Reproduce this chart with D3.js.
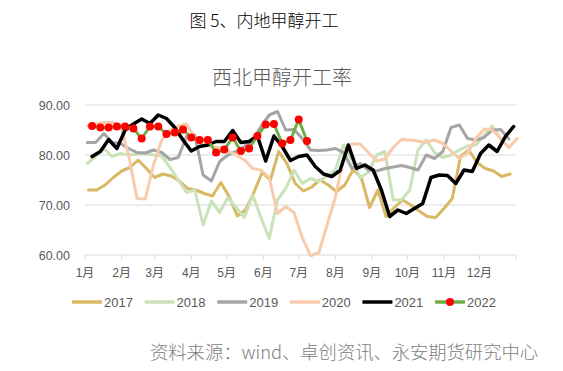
<!DOCTYPE html>
<html><head><meta charset="utf-8">
<script src="https://cdn.jsdelivr.net/npm/d3@7"></script>
<style>html,body{margin:0;padding:0;background:#fff;} svg{display:block;}</style>
</head><body>
<script>
// ---- data ----
const years = ["2017", "2018", "2019", "2020", "2021", "2022"];
const startDates = ["01-04", "01-03", "01-03", "01-03", "01-07", "01-07"]; // first weekly observation of each year
const monthLabels = ["1月","2月","3月","4月","5月","6月","7月","8月","9月","10月","11月","12月"];
const yTicks = [60, 70, 80, 90];

const v2017 = [73.0,73.0,74.0,75.5,76.8,77.5,79.0,77.3,75.5,76.2,75.8,74.8,73.3,73.0,72.3,71.8,74.5,71.7,67.8,69.0,72.5,76.5,75.0,80.7,78.3,74.3,72.8,73.6,75.0,74.0,72.7,74.0,77.0,75.5,69.5,73.0,67.7,69.5,71.0,70.0,68.8,67.7,67.5,69.3,71.3,79.7,81.0,78.5,77.3,76.8,75.7,76.2];
const v2018 = [78.3,79.7,81.3,79.7,80.3,80.0,80.2,80.3,80.0,79.8,77.5,75.0,72.5,73.0,66.0,70.8,68.5,71.5,69.5,67.5,72.0,67.5,63.3,71.0,73.3,77.0,74.3,75.3,74.7,75.8,77.0,82.0,79.0,75.5,76.5,80.0,80.7,71.0,71.0,73.0,81.0,83.0,80.5,79.5,80.0,81.0,81.8,82.0,84.0,85.8,83.2,81.5];
const v2019 = [82.5,82.5,84.3,82.5,82.3,81.3,80.5,80.4,81.0,80.5,79.1,79.5,83.7,84.0,76.0,74.8,78.7,80.0,80.7,81.7,83.0,85.7,88.0,88.7,85.0,85.1,83.3,81.0,80.9,81.0,81.3,80.5,77.3,78.3,77.0,76.8,77.3,77.6,77.9,77.5,77.0,80.0,79.3,80.7,85.5,86.0,83.3,83.0,83.5,85.0,85.1,83.2];
const v2020 = [85.8,86.2,86.5,86.5,86.0,80.0,71.3,71.2,78.0,83.0,85.0,85.8,86.2,83.5,82.0,81.7,81.5,80.8,80.0,79.0,77.3,77.0,75.5,68.3,69.7,68.5,63.5,59.8,60.5,66.0,71.5,79.5,82.2,82.2,80.5,78.8,79.2,81.5,83.1,83.0,82.8,82.5,83.0,82.3,80.8,79.3,80.3,83.3,85.2,85.0,83.3,81.5,83.3];
const v2021 = [79.7,80.7,83.1,81.3,85.0,86.2,87.2,86.3,88.0,87.3,85.5,83.0,80.8,81.7,82.0,82.7,82.7,84.9,82.5,82.7,83.8,78.8,83.8,81.7,78.9,79.7,80.0,77.7,76.2,75.7,76.9,82.0,77.3,78.0,77.0,73.0,67.7,69.0,68.3,69.3,70.3,75.5,76.0,75.9,74.3,77.0,76.7,80.3,82.0,80.7,83.7,85.7];
const v2022 = [85.8,85.5,85.5,85.7,85.7,85.3,83.3,85.7,85.7,84.2,84.5,85.1,83.5,83.0,83.0,80.5,81.1,83.5,80.8,81.3,83.8,86.1,86.2,82.3,83.0,87.1,82.8];

const seriesValues = [v2017, v2018, v2019, v2020, v2021, v2022];

// ---- styles ----
const colors = ["#d8b862", "#c9e2b8", "#a5a5a5", "#f8cbad", "#000000", "#70ad47"];
const widths = [3, 3, 3, 3, 3.5, 3];

const W = 563, H = 371;
const svg = d3.select("body").append("svg").attr("width", W).attr("height", H)
  .style("font-family", "'Liberation Sans', 'Noto Sans CJK SC', sans-serif");
svg.append("rect").attr("width", W).attr("height", H).attr("fill", "#fff");

const x = d3.scaleTime().domain([new Date(2001, 0, 1), new Date(2002, 0, 1)]).range([85, 516]);
const y = d3.scaleLinear().domain([60, 90]).range([255, 105]);

// titles
svg.append("text").attr("x", 264).attr("y", 27).attr("text-anchor", "middle")
  .attr("font-size", 17).attr("fill", "#000").attr("font-weight", 300)
  .style("font-family", "'Noto Sans CJK SC', sans-serif").text("图 5、内地甲醇开工");
svg.append("text").attr("x", 282).attr("y", 85).attr("text-anchor", "middle")
  .attr("font-size", 20).attr("fill", "#595959").attr("font-weight", 300)
  .style("font-family", "'Noto Sans CJK SC', sans-serif").text("西北甲醇开工率");

// grid
const [x0, x1] = x.range();
svg.append("g").selectAll("line").data(yTicks).join("line")
  .attr("x1", x0).attr("x2", x1).attr("y1", d => y(d)).attr("y2", d => y(d))
  .attr("stroke", "#d9d9d9").attr("stroke-width", 1);

// y labels
svg.append("g").selectAll("text").data(yTicks).join("text")
  .attr("x", 70).attr("y", d => y(d) + 4.5).attr("text-anchor", "end")
  .attr("font-size", 12.5).attr("fill", "#595959").text(d3.format(".2f"));

// x axis ticks
const monthTicks = x.ticks(d3.timeMonth.every(1));
svg.append("g").selectAll("line").data(monthTicks).join("line")
  .attr("x1", d => x(d)).attr("x2", d => x(d)).attr("y1", 255).attr("y2", 260)
  .attr("stroke", "#d9d9d9");
svg.append("g").selectAll("text").data(monthLabels).join("text")
  .attr("x", (d, i) => x(monthTicks[i])).attr("y", 277).attr("text-anchor", "middle")
  .attr("font-size", 12).attr("fill", "#595959").text(d => d);

// series
const toPoints = (vals, sd) => {
  const [m, d] = sd.split("-").map(Number);
  const s = new Date(2001, m - 1, d);
  return vals.map((v, i) => ({date: d3.timeDay.offset(s, 7 * i), v}));
};
const line = d3.line().x(d => x(d.date)).y(d => y(d.v));
const clipId = "clipplot";
svg.append("clipPath").attr("id", clipId).append("rect")
  .attr("x", 60).attr("y", 90).attr("width", 480).attr("height", 167);
const plot = svg.append("g").attr("clip-path", `url(#${clipId})`);
seriesValues.forEach((vals, k) => {
  const pts = toPoints(vals, startDates[k]);
  plot.append("path").datum(pts).attr("d", line).attr("fill", "none")
    .attr("stroke", colors[k]).attr("stroke-width", widths[k])
    .attr("stroke-linejoin", "round").attr("stroke-linecap", "round");
  if (k === 5) {
    plot.append("g").selectAll("circle").data(pts).join("circle")
      .attr("cx", d => x(d.date)).attr("cy", d => y(d.v)).attr("r", 4).attr("fill", "#ff0000");
  }
});

// legend
const lg = svg.append("g");
years.forEach((yr, k) => {
  const lx = 72 + k * 72.6, ly = 302;
  lg.append("line").attr("x1", lx).attr("x2", lx + 30).attr("y1", ly).attr("y2", ly)
    .attr("stroke", colors[k]).attr("stroke-width", 3.5);
  if (k === 5) lg.append("circle").attr("cx", lx + 15).attr("cy", ly).attr("r", 4).attr("fill", "#ff0000");
  lg.append("text").attr("x", lx + 32).attr("y", ly + 4.5).attr("font-size", 13)
    .attr("fill", "#595959").text(yr);
});

// source
svg.append("text").attr("x", 538).attr("y", 359).attr("text-anchor", "end")
  .attr("font-size", 18.3).attr("fill", "#808080").attr("font-weight", 300)
  .style("font-family", "'Noto Sans CJK SC', sans-serif").text("资料来源：wind、卓创资讯、永安期货研究中心");
</script>
</body></html>
